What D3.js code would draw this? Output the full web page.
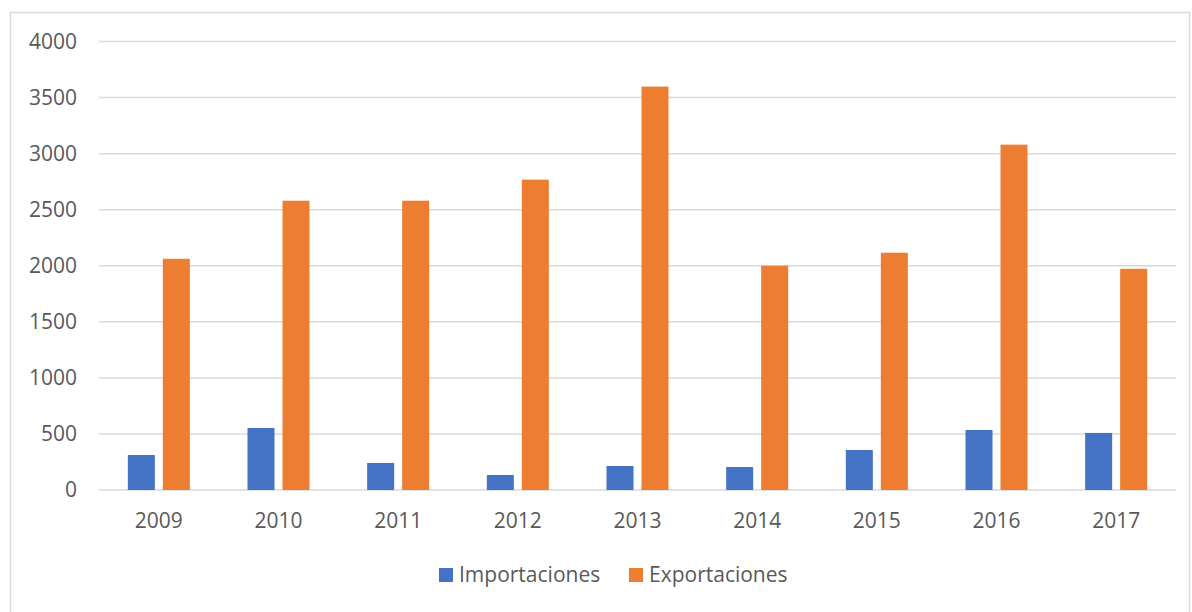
<!DOCTYPE html>
<html>
<head>
<meta charset="utf-8">
<script src="https://cdn.jsdelivr.net/npm/d3@7"></script>
<style>
  body { margin: 0; background: #fff; }
  svg text { font-family: "Open Sans", sans-serif; fill: #595959; }
</style>
</head>
<body>
<div id="chart"></div>
<script>
// values
const years = ["2009", "2010", "2011", "2012", "2013", "2014", "2015", "2016", "2017"]
const importaciones = [312, 553, 241, 134, 214, 205, 357, 535, 509]
const exportaciones = [2062, 2580, 2580, 2768, 3598, 2000, 2116, 3080, 1973]
const seriesNames = ["Importaciones", "Exportaciones"]
const seriesColors = ["#4472C4", "#ED7D31"]
const yTicks = [0, 500, 1000, 1500, 2000, 2500, 3000, 3500, 4000]

const width = 1192
const height = 612
const plot = { left: 99, right: 1176, top: 41.5, bottom: 490 }
const fontSize = 21

const svg = d3.select("#chart")
  .append("svg")
  .attr("width", width)
  .attr("height", height)

// outer frame
svg.append("rect")
  .attr("x", 10.5).attr("y", 12.5)
  .attr("width", 1179).attr("height", 610)
  .attr("fill", "none")
  .attr("stroke", "#d9d9d9")
  .attr("stroke-width", 1.5)

const x = d3.scaleBand()
  .domain(years)
  .range([plot.left, plot.right])

const y = d3.scaleLinear()
  .domain([0, 4000])
  .range([plot.bottom, plot.top])

// gridlines
svg.append("g")
  .selectAll("line")
  .data(yTicks)
  .enter()
  .append("line")
  .attr("x1", plot.left).attr("x2", plot.right)
  .attr("y1", d => y(d)).attr("y2", d => y(d))
  .attr("stroke", "#d9d9d9")
  .attr("stroke-width", 1.5)

// y labels
svg.append("g")
  .selectAll("text")
  .data(yTicks)
  .enter()
  .append("text")
  .attr("x", 77)
  .attr("y", d => y(d))
  .attr("dy", "0.35em")
  .attr("text-anchor", "end")
  .attr("font-size", fontSize)
  .text(d => d)

// x labels
svg.append("g")
  .selectAll("text")
  .data(years)
  .enter()
  .append("text")
  .attr("x", d => x(d) + x.bandwidth() / 2)
  .attr("y", 521)
  .attr("dy", "0.35em")
  .attr("text-anchor", "middle")
  .attr("font-size", fontSize)
  .text(d => d)

const barWidth = 27
const gap = 8
const rows = years.map((yr, i) => ({ year: yr, values: [importaciones[i], exportaciones[i]] }))

const groups = svg.append("g")
  .selectAll("g")
  .data(rows)
  .enter()
  .append("g")
  .attr("transform", d => `translate(${x(d.year) + x.bandwidth() / 2},0)`)

groups.selectAll("rect")
  .data(d => d.values.map((v, k) => ({ v, k })))
  .enter()
  .append("rect")
  .attr("x", d => d.k === 0 ? -(barWidth + gap / 2) : gap / 2)
  .attr("y", d => y(d.v))
  .attr("width", barWidth)
  .attr("height", d => y(0) - y(d.v))
  .attr("fill", d => seriesColors[d.k])

// legend
const legend = svg.append("g")
  .selectAll("g")
  .data(seriesNames)
  .enter()
  .append("g")
  .attr("transform", (d, i) => `translate(${i === 0 ? 439 : 629},568)`)

legend.append("rect")
  .attr("width", 14).attr("height", 14)
  .attr("fill", (d, i) => seriesColors[i])

legend.append("text")
  .attr("x", 20)
  .attr("y", 7)
  .attr("dy", "0.35em")
  .attr("font-size", fontSize)
  .text(d => d)
</script>
</body>
</html>
